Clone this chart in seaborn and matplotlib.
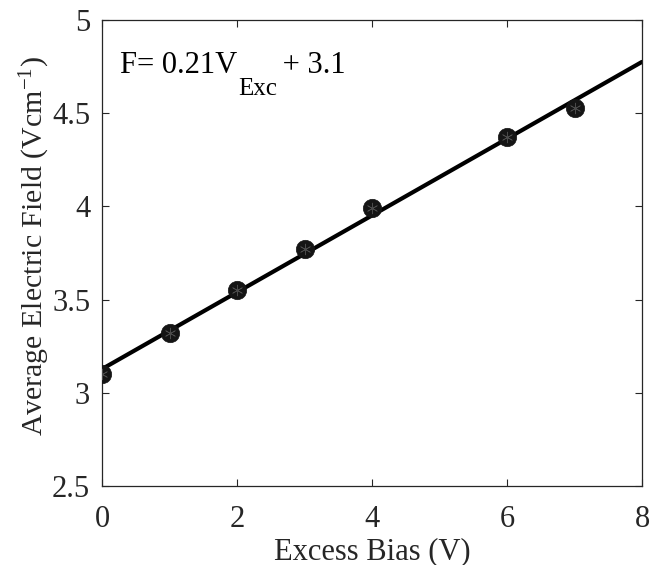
import numpy as np
import pandas as pd
import seaborn as sns
import matplotlib
matplotlib.use("Agg")
import matplotlib.pyplot as plt

excess_bias = [0, 1, 2, 3, 4, 6, 7]
avg_field = [3.10, 3.32, 3.55, 3.77, 3.99, 4.37, 4.53]
x_ticks = [0, 2, 4, 6, 8]
y_ticks = [2.5, 3, 3.5, 4, 4.5, 5]
y_tick_labels = ["2.5", "3", "3.5", "4", "4.5", "5"]
eq_main = "F= 0.21V"
eq_sub = "Exc"
eq_tail = " + 3.1"

df = pd.DataFrame({"bias": excess_bias, "field": avg_field})

sns.set_style("ticks")
plt.rcParams["font.family"] = ["Liberation Serif", "DejaVu Serif"]
plt.rcParams["mathtext.fontset"] = "custom"
plt.rcParams["mathtext.rm"] = "Liberation Serif"
plt.rcParams["mathtext.it"] = "Liberation Serif:italic"

W, H = 652, 565
fig = plt.figure(figsize=(W / 100, H / 100), dpi=100)
ax = fig.add_axes([102 / W, 1 - 486 / H, 540 / W, 466 / H])
ax.set_xlim(0, 8)
ax.set_ylim(2.5, 5)

sns.regplot(data=df, x="bias", y="field", ax=ax, ci=None, truncate=False,
            scatter_kws=dict(s=175, color="#151515", edgecolor="#151515", linewidths=0.5, zorder=3, alpha=1),
            line_kws=dict(color="black", lw=3.0, zorder=2))
sns.scatterplot(data=df, x="bias", y="field", ax=ax, marker=(6, 2, 0), s=60,
                color="#4a4a4a", linewidth=0.5, zorder=4, legend=False)

ax.set_xlim(0, 8)
ax.set_ylim(2.5, 5)
ax.set_xticks(x_ticks)
ax.set_yticks(y_ticks)
ax.set_yticklabels(y_tick_labels)
ax.tick_params(direction="in", length=5, width=0.8, labelsize=22, colors="#262626",
               top=True, right=True)
ax.tick_params(axis="x", pad=14)
ax.tick_params(axis="y", pad=8.5)
for sp in ax.spines.values():
    sp.set_visible(True)
    sp.set_color("#262626")
    sp.set_linewidth(0.9)

ax.set_xlabel("Excess Bias (V)", fontsize=22, color="#262626", labelpad=2)
ax.set_ylabel("Average Electric Field (Vcm$^{-1}$)", fontsize=21.5, color="#262626", labelpad=1)
ax.yaxis.set_label_coords(-0.092, 0.515)

# equation text: main, lowered subscript, tail
renderer = fig.canvas.get_renderer()
base_y = H - 73
t1 = fig.text(120 / W, base_y / H, eq_main, fontsize=22, color="black", ha="left", va="baseline")
bb1 = t1.get_window_extent(renderer)
t2 = fig.text((bb1.x1 + 1) / W, (base_y - 22) / H, eq_sub, fontsize=18, color="black",
              ha="left", va="baseline")
bb2 = t2.get_window_extent(renderer)
t3 = fig.text((bb2.x1 - 2) / W, base_y / H, eq_tail, fontsize=22, color="black",
              ha="left", va="baseline")

fig.savefig("out.png", dpi=100)
